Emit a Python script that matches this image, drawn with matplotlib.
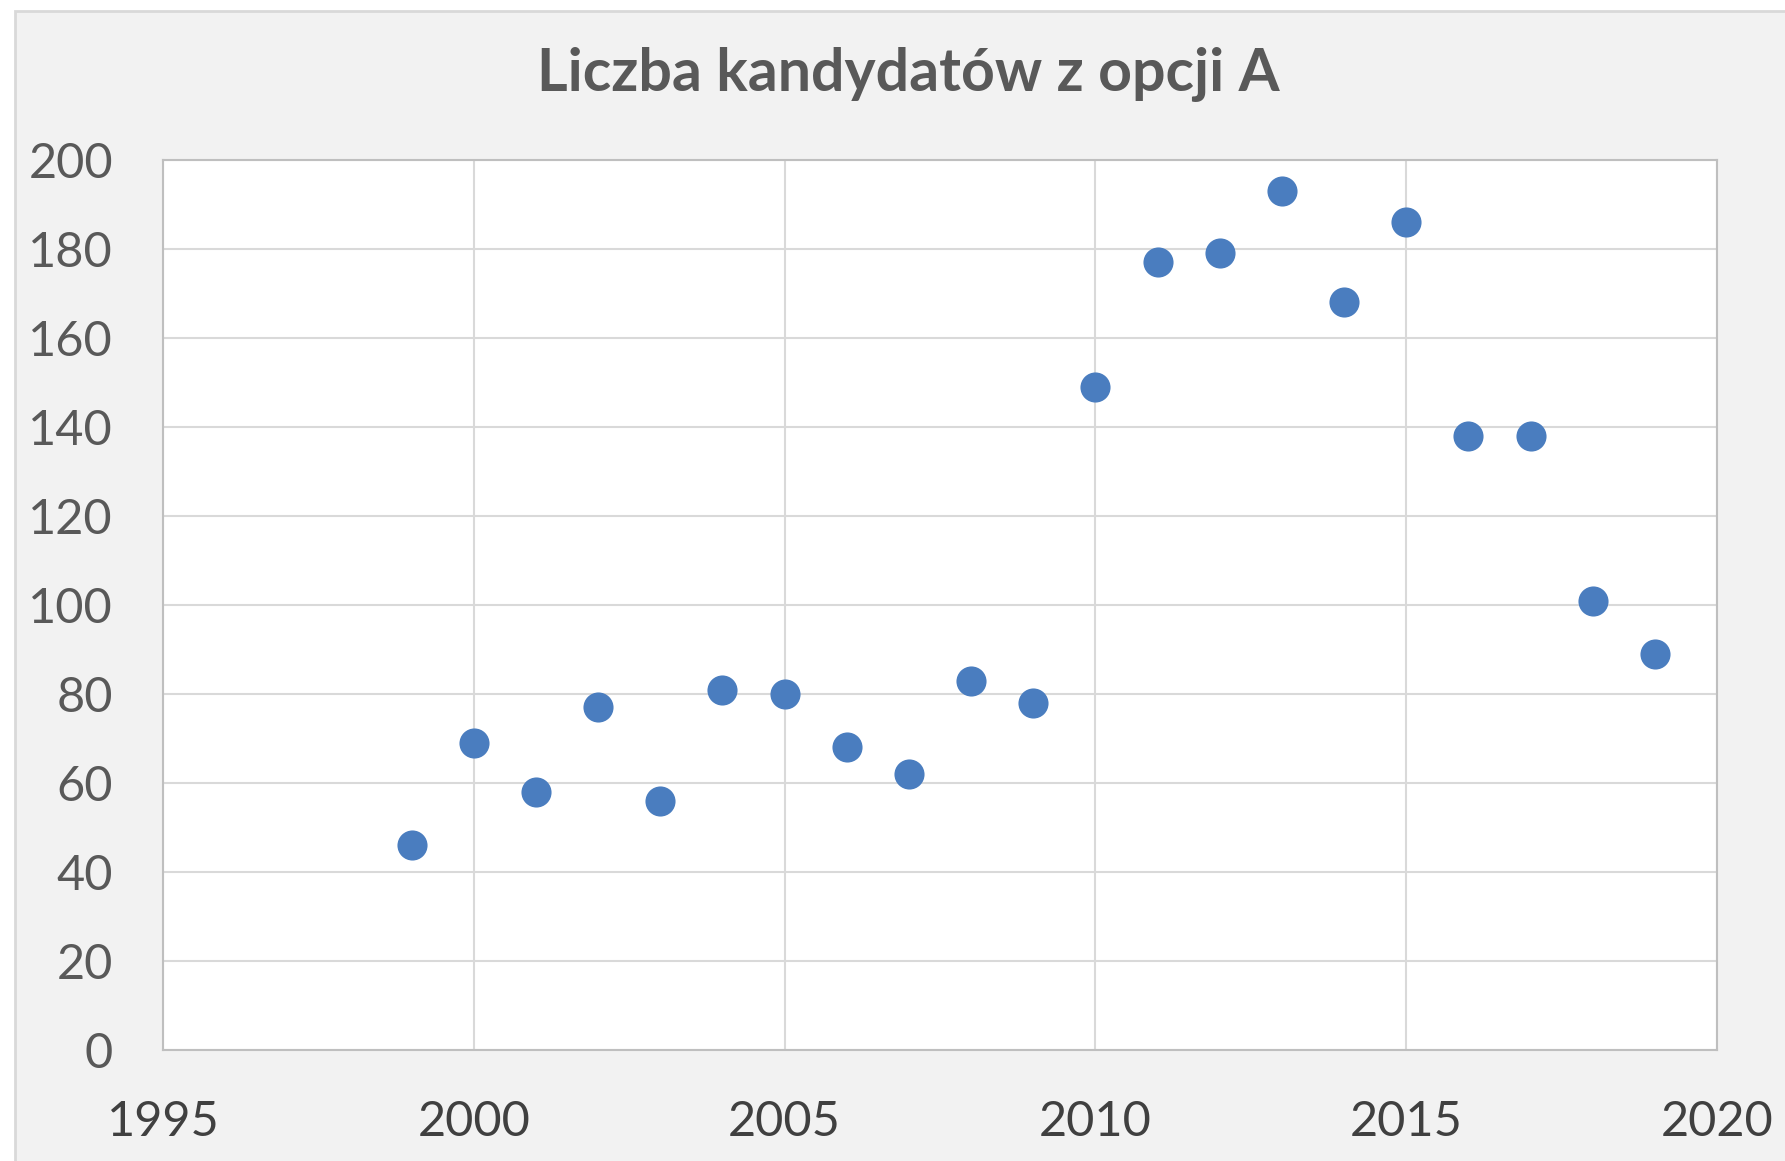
import matplotlib
matplotlib.use("Agg")
import matplotlib.pyplot as plt
from matplotlib.patches import Rectangle

years = [1999, 2000, 2001, 2002, 2003, 2004, 2005, 2006, 2007, 2008, 2009,
         2010, 2011, 2012, 2013, 2014, 2015, 2016, 2017, 2018, 2019]
counts = [46, 69, 58, 77, 56, 81, 80, 68, 62, 83, 78,
          149, 177, 179, 193, 168, 186, 138, 138, 101, 89]
x_ticks = [1995, 2000, 2005, 2010, 2015, 2020]
y_ticks = [0, 20, 40, 60, 80, 100, 120, 140, 160, 180, 200]
title = "Liczba kandydatów z opcji A"

plt.rcParams['font.family'] = ['Lato', 'DejaVu Sans']

W, H = 1785, 1161
fig = plt.figure(figsize=(W / 100, H / 100), dpi=100)
fig.patch.set_facecolor('white')
fig.patches.append(Rectangle((15 / W, -0.05), 1.2, 1 - 11 / H + 0.05,
                             transform=fig.transFigure, facecolor='#f2f2f2',
                             edgecolor='#d9d9d9', linewidth=2.0, zorder=-10))

ax = fig.add_axes([163 / W, 1 - 1050 / H, (1717 - 163) / W, (1050 - 160) / H])
ax.set_facecolor('white')
ax.scatter(years, counts, s=470, color='#4a7dbf', zorder=3, linewidths=0)
ax.set_xlim(1995, 2020)
ax.set_ylim(0, 200)
ax.set_xticks(x_ticks)
ax.set_yticks(y_ticks)
ax.grid(True, color='#d9d9d9', linewidth=1.5, zorder=0)
for s in ax.spines.values():
    s.set_color('#bfbfbf')
    s.set_linewidth(1.5)
ax.tick_params(axis='both', length=0)
ax.tick_params(axis='y', labelsize=35, labelcolor='#595959', pad=36)
ax.tick_params(axis='x', labelsize=35, labelcolor='#404040', pad=36)

fig.text(908 / W, 1 - 74 / H, title, ha='center', va='center',
         fontsize=42.5, fontweight='bold', color='#595959')

fig.savefig('out.png', dpi=100, facecolor=fig.get_facecolor())
